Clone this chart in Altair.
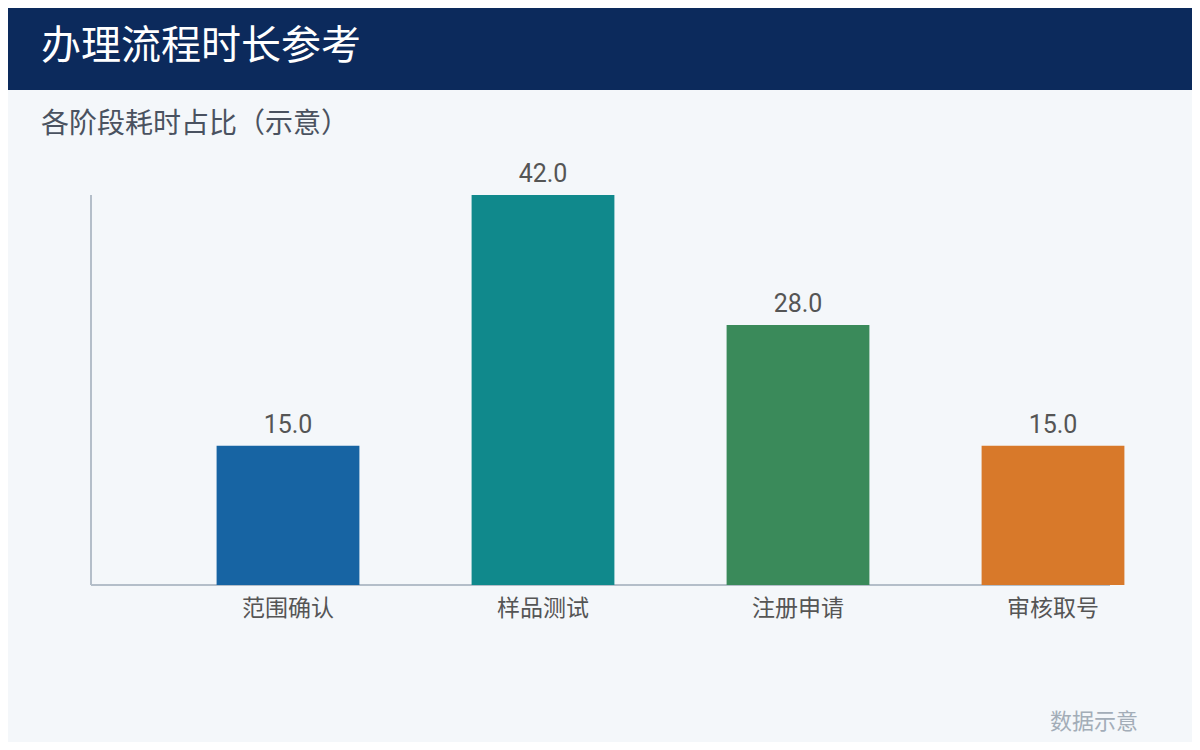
import altair as alt
import pandas as pd

categories = ["范围确认", "样品测试", "注册申请", "审核取号"]
values = [15.0, 42.0, 28.0, 15.0]
colors = ["#1764a3", "#10898c", "#3a8a5a", "#d8792a"]

title_text = "办理流程时长参考"
subtitle_text = "各阶段耗时占比（示意）"
footer_text = "数据示意"

FONT = "Noto Sans CJK SC"
NUMFONT = "Roboto"
W, H = 1019, 390

df = pd.DataFrame({"cat": categories, "val": values, "color": colors})

x_enc = alt.X("cat:N", sort=categories,
              scale=alt.Scale(range=[69.5, 1089.5], paddingInner=0.44, paddingOuter=0.22),
              axis=alt.Axis(title=None, domain=False, ticks=False, labelFontSize=23,
                            labelColor="#555555", labelFont=FONT, labelPadding=12, labelAngle=0))
y_enc = alt.Y("val:Q", scale=alt.Scale(domain=[0, 42], nice=False, zero=True), axis=None)

header = alt.Chart(pd.DataFrame({"a": [0]})).mark_rect(color="#0c2a5c", clip=False).encode(
    x=alt.value(-100), x2=alt.value(1120), y=alt.value(-200), y2=alt.value(-105))

title = alt.Chart(pd.DataFrame({"t": [title_text]})).mark_text(
    font=FONT, fontSize=40, color="#ffffff", align="left", baseline="middle").encode(
    x=alt.value(-50), y=alt.value(-148), text="t:N")

subtitle = alt.Chart(pd.DataFrame({"t": [subtitle_text]})).mark_text(
    font=FONT, fontSize=28, color="#4a5260", align="left", baseline="middle").encode(
    x=alt.value(-50), y=alt.value(-70), text="t:N")

footer = alt.Chart(pd.DataFrame({"t": [footer_text]})).mark_text(
    font=FONT, fontSize=22, color="#a3adb8", align="right", baseline="middle").encode(
    x=alt.value(1047), y=alt.value(527), text="t:N")

axis_lines = alt.Chart(pd.DataFrame({"a": [0]})).mark_rule(color="#b4bec9", strokeWidth=2).encode(
    x=alt.value(0), x2=alt.value(1019), y=alt.value(H), y2=alt.value(H))
yaxis_line = alt.Chart(pd.DataFrame({"a": [0]})).mark_rule(color="#b4bec9", strokeWidth=2).encode(
    x=alt.value(0), x2=alt.value(0), y=alt.value(0), y2=alt.value(H))

bars = alt.Chart(df).mark_bar(clip=False).encode(
    x=x_enc, y=y_enc,
    color=alt.Color("color:N", scale=None))

labels = alt.Chart(df).mark_text(
    font=NUMFONT, fontSize=25, color="#555555", baseline="alphabetic", dy=-13).encode(
    x=alt.X("cat:N", sort=categories), y="val:Q", text=alt.Text("val:Q", format=".1f"))

chart = alt.layer(header, title, subtitle, footer, axis_lines, yaxis_line, bars, labels).properties(
    width=W, height=H,
    autosize=alt.AutoSizeParams(type="none"),
    padding={"left": 83, "top": 187, "right": 82, "bottom": 157},
    background="#f4f7fa",
).configure_view(stroke=None)

chart.save("out.html", embed_options={"renderer": "svg", "actions": False})
